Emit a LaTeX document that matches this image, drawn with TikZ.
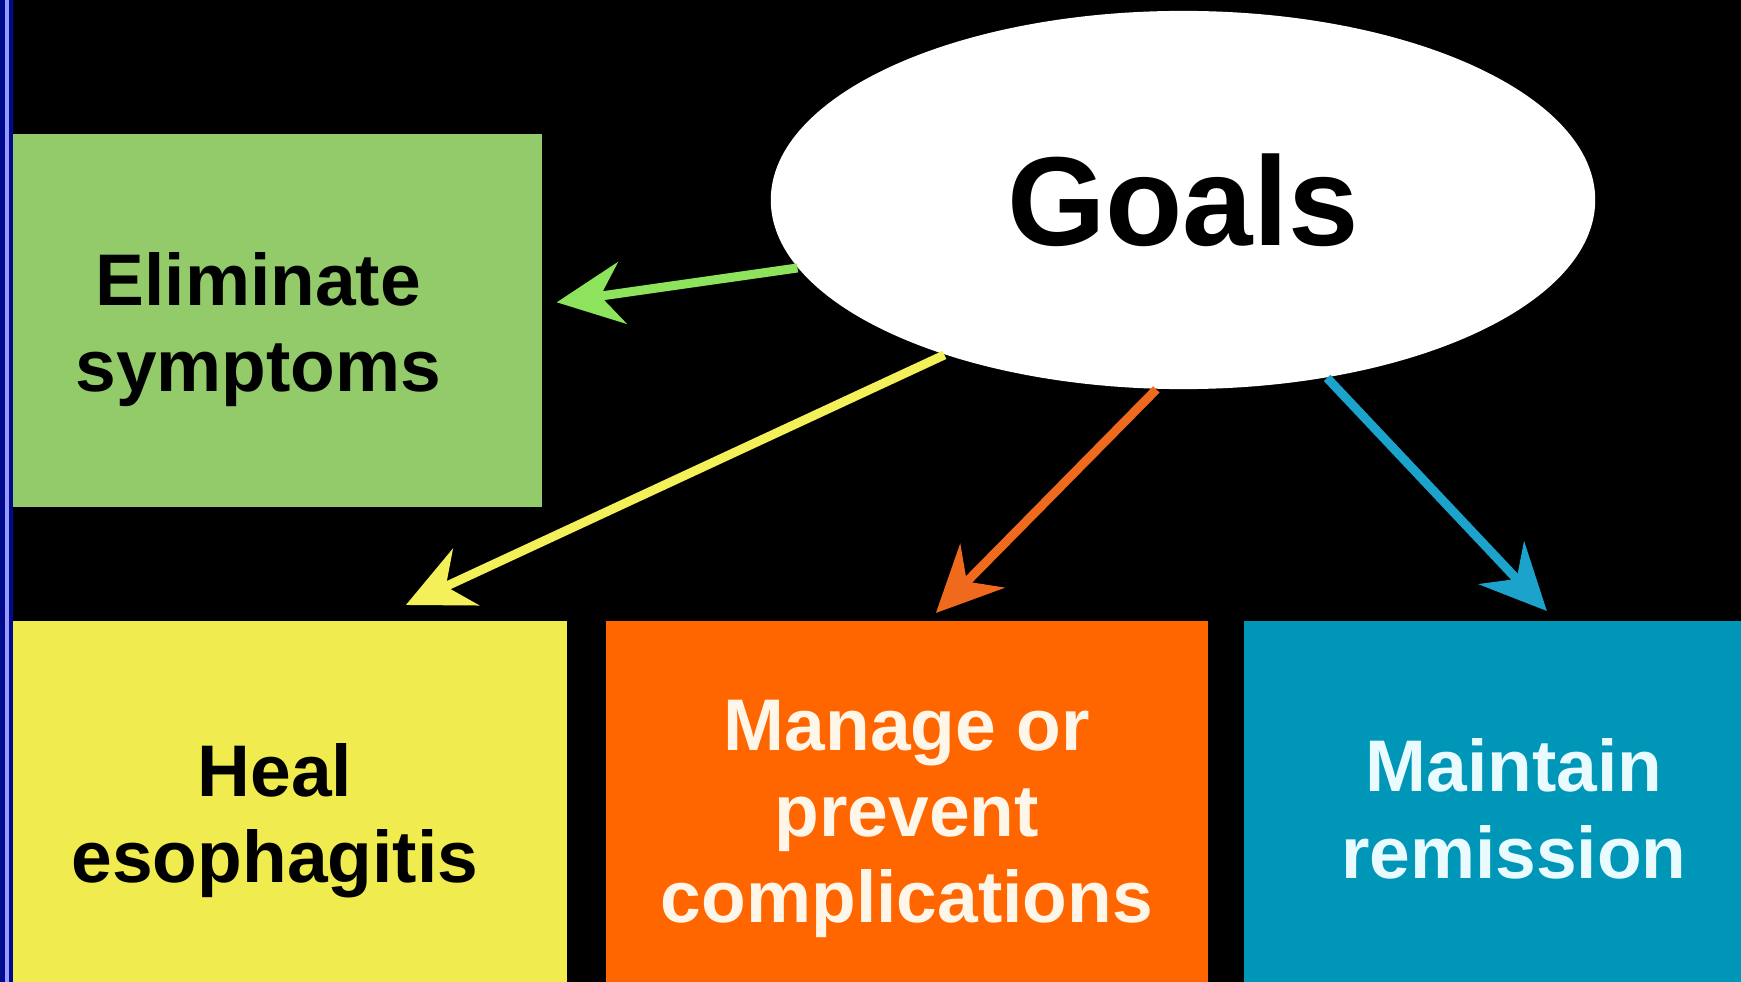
\documentclass[tikz,border=0pt]{standalone}
\usepackage{fontspec}
\setmainfont{Liberation Sans}
\usetikzlibrary{arrows.meta,shapes.geometric,calc}

\definecolor{leafgreen}{HTML}{93CB6B}
\definecolor{lemon}{HTML}{F0EB4E}
\definecolor{tangerine}{HTML}{FF6600}
\definecolor{lagoon}{HTML}{0096B8}
\definecolor{limearrow}{HTML}{8EE35C}
\definecolor{lemonarrow}{HTML}{F4F05A}
\definecolor{tangarrow}{HTML}{F06A1E}
\definecolor{lagoonarrow}{HTML}{1BA3CC}
\definecolor{navy strip}{HTML}{000A8C}
\definecolor{cream}{HTML}{FFF6EA}
\definecolor{icewhite}{HTML}{EAFBFF}

\begin{document}
\begin{tikzpicture}[x=0.01cm,y=-0.01cm,>={Stealth[length=0.66cm,width=0.62cm,inset=0.22cm]},
  goal box/.style={rectangle,anchor=north west,inner sep=0pt},
  goal text/.style={inner sep=0pt,align=center,font=\bfseries\fontsize{20.8}{24.5}\selectfont},
  link/.style={->,line width=0.09cm}]

  \useasboundingbox (0,0) rectangle (1741,982);
  \clip (0,0) rectangle (1741,982);
  \fill[black] (0,0) rectangle (1741,982);

  % the four goals
  \node[goal box,fill=leafgreen,minimum width=5.41cm,minimum height=3.73cm] (elim) at (0,133) {};
  \node[goal box,fill=lemon,minimum width=5.66cm,minimum height=3.8cm] (heal) at (0,620) {};
  \node[goal box,fill=tangerine,minimum width=6.02cm,minimum height=3.8cm] (manage) at (605,620) {};
  \node[goal box,fill=lagoon,minimum width=5.4cm,minimum height=3.8cm] (maintain) at (1243,620) {};

  \node[goal text] (elimtext) at ($(elim)+(-13,9)$) {Eliminate\\symptoms};
  \node[goal text] (healtext) at ($(heal)+(-9,10)$) {Heal\\esophagitis};
  \node[goal text,text=cream] (managetext) at ($(manage)+(0,8)$) {Manage or\\prevent\\complications};
  \node[goal text,text=icewhite] (maintaintext) at ($(maintain)+(0,-2)$) {Maintain\\remission};

  % the hub
  \node[ellipse,fill=white,minimum width=8.24cm,minimum height=3.78cm,inner sep=0pt,
        font=\bfseries\fontsize{36}{40}\selectfont] (goals) at (1183,200) {Goals};

  \path
    (goals.190) edge[link,limearrow] ($(elim.east)+(14,-18)$)
    (goals.213) edge[link,lemonarrow] ($(heal.north)+(122,-15)$)
    (goals.262) edge[link,tangarrow] ($(manage.north)+(29,-7)$)
    (goals.309) edge[link,lagoonarrow] ($(maintain.north)+(33,-9)$);

  % slide edge
  \fill[navy strip] (0,0) rectangle (13,982);
  \draw[line width=0.03cm,blue!40!white] (7,0) -- (7,982);
\end{tikzpicture}
\end{document}
